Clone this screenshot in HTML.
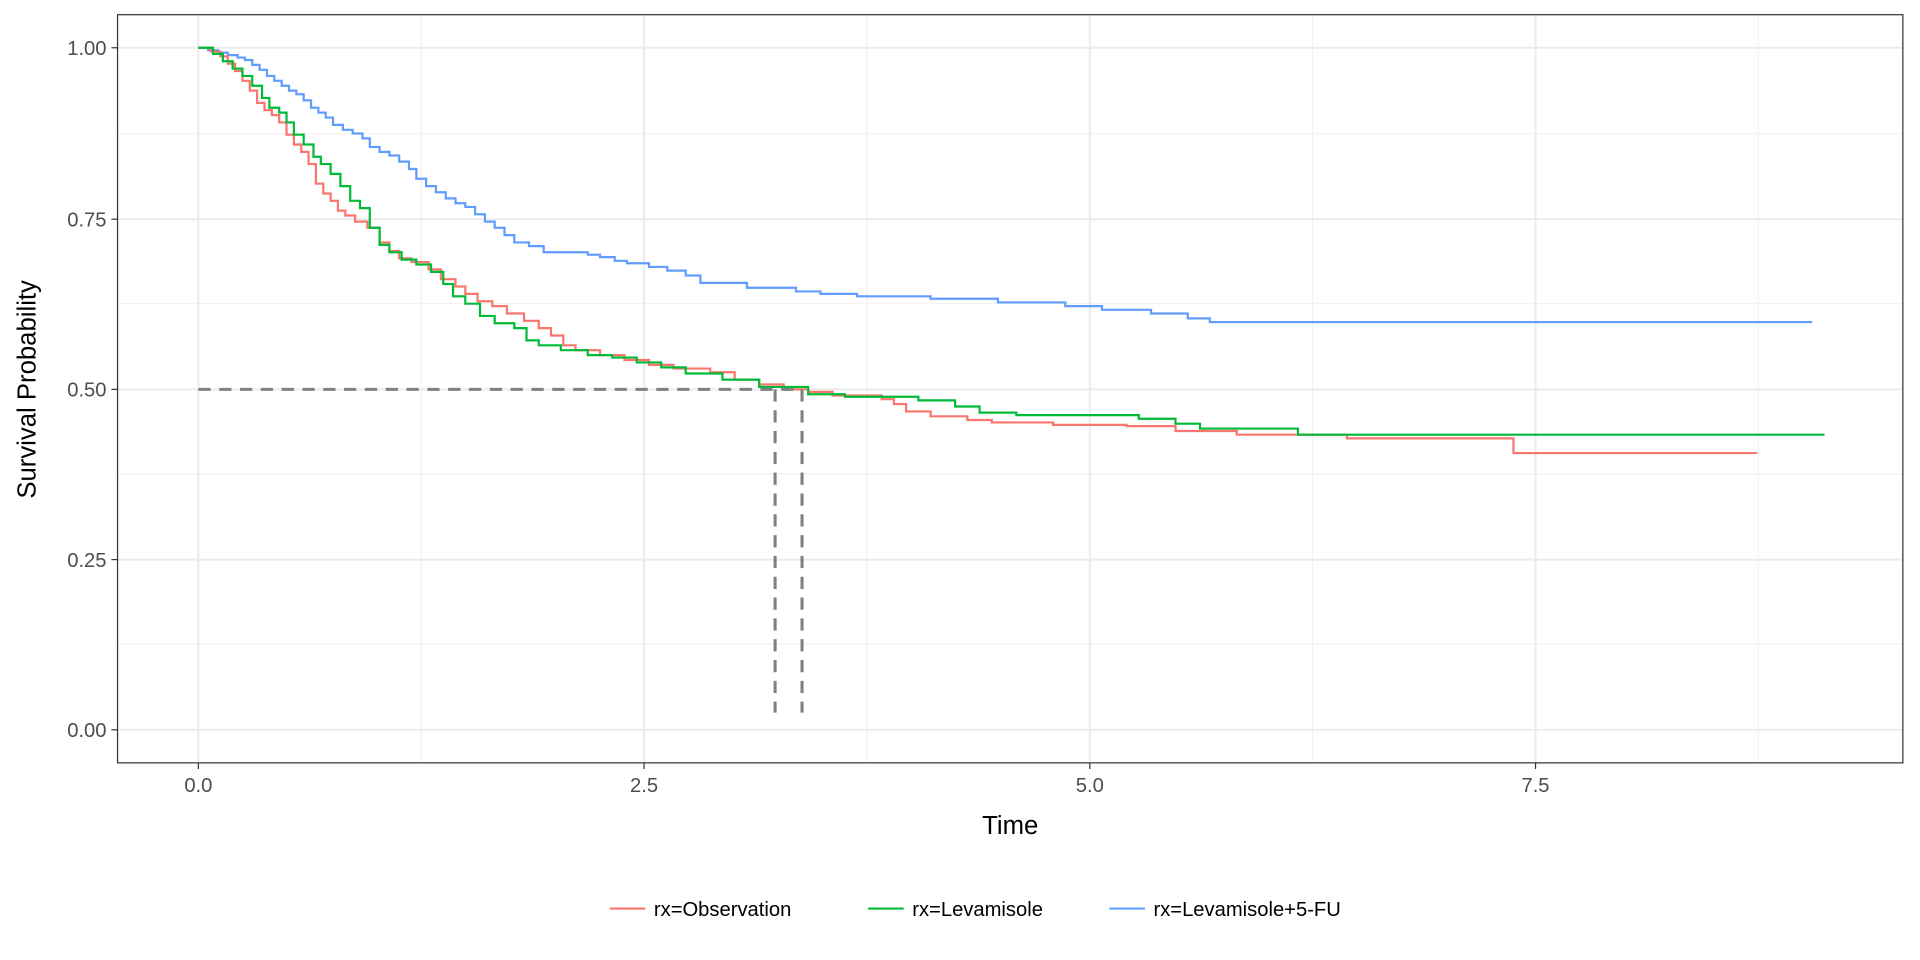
<!DOCTYPE html>
<html><head><style>body{margin:0;background:#fff}</style></head><body>
<svg width="1920" height="960" viewBox="0 0 1568 784" xmlns="http://www.w3.org/2000/svg" font-family="Liberation Sans, sans-serif" style="display:block">
<rect width="1568" height="784" fill="#fff"/>
<g stroke="#f2f2f2" stroke-width="1">
<line x1="96" x2="1554" y1="109" y2="109"/><line x1="96" x2="1554" y1="248" y2="248"/><line x1="96" x2="1554" y1="387" y2="387"/><line x1="96" x2="1554" y1="526" y2="526"/>
<line x1="344" x2="344" y1="12" y2="623"/><line x1="708" x2="708" y1="12" y2="623"/><line x1="1072" x2="1072" y1="12" y2="623"/><line x1="1436" x2="1436" y1="12" y2="623"/>
</g>
<g stroke="#ebebeb" stroke-width="1.6">
<line x1="96" x2="1554" y1="39" y2="39"/><line x1="96" x2="1554" y1="179" y2="179"/><line x1="96" x2="1554" y1="318" y2="318"/><line x1="96" x2="1554" y1="457" y2="457"/><line x1="96" x2="1554" y1="596" y2="596"/>
<line x1="162" x2="162" y1="12" y2="623"/><line x1="526" x2="526" y1="12" y2="623"/><line x1="890" x2="890" y1="12" y2="623"/><line x1="1254" x2="1254" y1="12" y2="623"/>
</g>
<g fill="none" stroke-width="1.8">
<path stroke="#619CFF" d="M162 39 H170 V41 H178 V43 H186 V45 H194 V47 H200 V49 H206 V53 H212 V57 H218 V62 H224 V66 H230 V70 H236 V74 H242 V77 H248 V82 H254 V88 H260 V92 H266 V96 H272 V102 H280 V106 H288 V109 H296 V113 H302 V120 H310 V124 H318 V127 H326 V132 H334 V138 H340 V146 H348 V152 H356 V157 H364 V162 H372 V166 H380 V169 H388 V175 H396 V181 H404 V186 H412 V192 H420 V198 H432 V201 H444 V206 H480 V208 H490 V210 H502 V213 H512 V215 H530 V218 H545 V221 H560 V225 H572 V231 H610 V235 H650 V238 H670 V240 H700 V242 H760 V244 H815 V247 H870 V250 H900 V253 H940 V256 H970 V260 H988 V263 H1480"/>
<path stroke="#F8766D" d="M162 39 H172 V42 H180 V46 H186 V52 H192 V58 H198 V66 H204 V74 H210 V84 H216 V90 H222 V94 H228 V100 H234 V110 H240 V118 H246 V124 H252 V134 H258 V150 H264 V158 H270 V164 H276 V172 H282 V176 H290 V181 H300 V186 H310 V198 H318 V205 H326 V211 H336 V214 H350 V220 H360 V228 H372 V234 H380 V240 H390 V246 H402 V250 H414 V256 H428 V262 H440 V268 H450 V274 H460 V282 H470 V286 H490 V290 H510 V294 H530 V298 H550 V301 H580 V304 H600 V310 H620 V314 H640 V318 H660 V320 H680 V323 H720 V326 H730 V330 H740 V336 H760 V340 H790 V343 H810 V345 H860 V347 H920 V348 H960 V352 H1010 V355 H1100 V358 H1236 V370 H1435"/>
<path stroke="#00BA38" d="M162 39 H174 V44 H182 V50 H190 V56 H198 V62 H206 V70 H214 V80 H220 V88 H228 V92 H234 V100 H240 V110 H248 V118 H256 V128 H262 V134 H270 V142 H278 V152 H286 V164 H294 V170 H302 V186 H310 V200 H318 V206 H328 V212 H340 V216 H352 V222 H362 V232 H370 V242 H380 V248 H392 V258 H404 V264 H420 V268 H430 V278 H440 V282 H458 V286 H480 V290 H500 V292 H520 V296 H540 V300 H560 V305 H590 V310 H620 V316 H660 V322 H690 V324 H750 V327 H780 V332 H800 V337 H830 V339 H930 V342 H960 V346 H980 V350 H1060 V355 H1490"/>
</g>
<g stroke="#808080" stroke-width="2.5" stroke-dasharray="10,7" fill="none">
<line x1="162" x2="655" y1="318" y2="318"/><line x1="633" x2="633" y1="318" y2="582"/><line x1="655" x2="655" y1="318" y2="582"/>
</g>
<rect x="96" y="12" width="1458" height="611" fill="none" stroke="#333" stroke-width="1"/>
<g stroke="#333" stroke-width="1">
<line x1="91" x2="96" y1="39" y2="39"/><line x1="91" x2="96" y1="179" y2="179"/><line x1="91" x2="96" y1="318" y2="318"/><line x1="91" x2="96" y1="457" y2="457"/><line x1="91" x2="96" y1="596" y2="596"/>
<line x1="162" x2="162" y1="623" y2="628"/><line x1="526" x2="526" y1="623" y2="628"/><line x1="890" x2="890" y1="623" y2="628"/><line x1="1254" x2="1254" y1="623" y2="628"/>
</g>
<g fill="#4d4d4d" font-size="16.5" text-anchor="end">
<text x="87" y="45">1.00</text><text x="87" y="185">0.75</text><text x="87" y="324">0.50</text><text x="87" y="463">0.25</text><text x="87" y="602">0.00</text>
</g>
<g fill="#4d4d4d" font-size="16.5" text-anchor="middle">
<text x="162" y="647">0.0</text><text x="526" y="647">2.5</text><text x="890" y="647">5.0</text><text x="1254" y="647">7.5</text>
</g>
<text x="825" y="681" font-size="21" text-anchor="middle">Time</text>
<text transform="translate(29,318) rotate(-90)" font-size="21" text-anchor="middle">Survival Probability</text>
<g font-size="16.5">
<line x1="498" x2="527" y1="742" y2="742" stroke="#F8766D" stroke-width="1.8"/><text x="534" y="748">rx=Observation</text>
<line x1="709" x2="738" y1="742" y2="742" stroke="#00BA38" stroke-width="1.8"/><text x="745" y="748">rx=Levamisole</text>
<line x1="906" x2="935" y1="742" y2="742" stroke="#619CFF" stroke-width="1.8"/><text x="942" y="748">rx=Levamisole+5-FU</text>
</g>
</svg>
</body></html>
